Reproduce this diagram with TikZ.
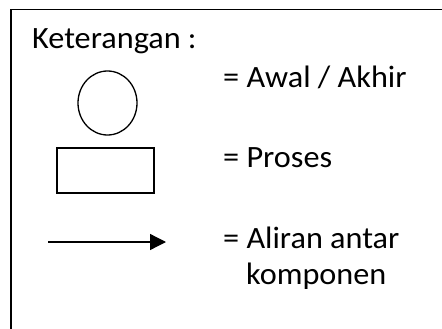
\documentclass[tikz,border=0pt]{standalone}
\usepackage{fontspec}
\setmainfont{Carlito}
\usetikzlibrary{arrows.meta,shapes.geometric}
\begin{document}
\begin{tikzpicture}[x=1pt,y=-1pt,
  shapeline/.style={draw=black,line width=1.3pt},
  label/.style={anchor=base west,inner sep=0pt,xscale=1.04,font=\fontsize{31}{36}\selectfont}]
\useasboundingbox (0,0) rectangle (442,329);
\clip (0,0) rectangle (442,329);
% legend frame (runs past the right and bottom edges)
\draw[line width=1.5pt] (11,9.5) rectangle (460,345);
\node[label] (title) at (32,49) {Keterangan :};
% start / end symbol
\node[shapeline,ellipse,minimum width=59pt,minimum height=64pt,inner sep=0pt] (term) at (107.5,103) {};
\node[label] (termtxt) at (223,88) {= Awal / Akhir};
% process symbol
\node[shapeline,rectangle,minimum width=97pt,minimum height=45pt,inner sep=0pt] (proc) at (105.5,170.5) {};
\node[label] (proctxt) at (223,167) {= Proses};
% flow symbol
\coordinate (fa) at (48,242);
\coordinate (fb) at (166,242);
\draw[line width=1.3pt,-{Triangle[length=16pt,width=16pt]}] (fa) -- (fb);
\node[label] (flowtxt) at (223,248) {= Aliran antar};
\node[label] (flowtxt2) at (246,284) {komponen};
\end{tikzpicture}
\end{document}
